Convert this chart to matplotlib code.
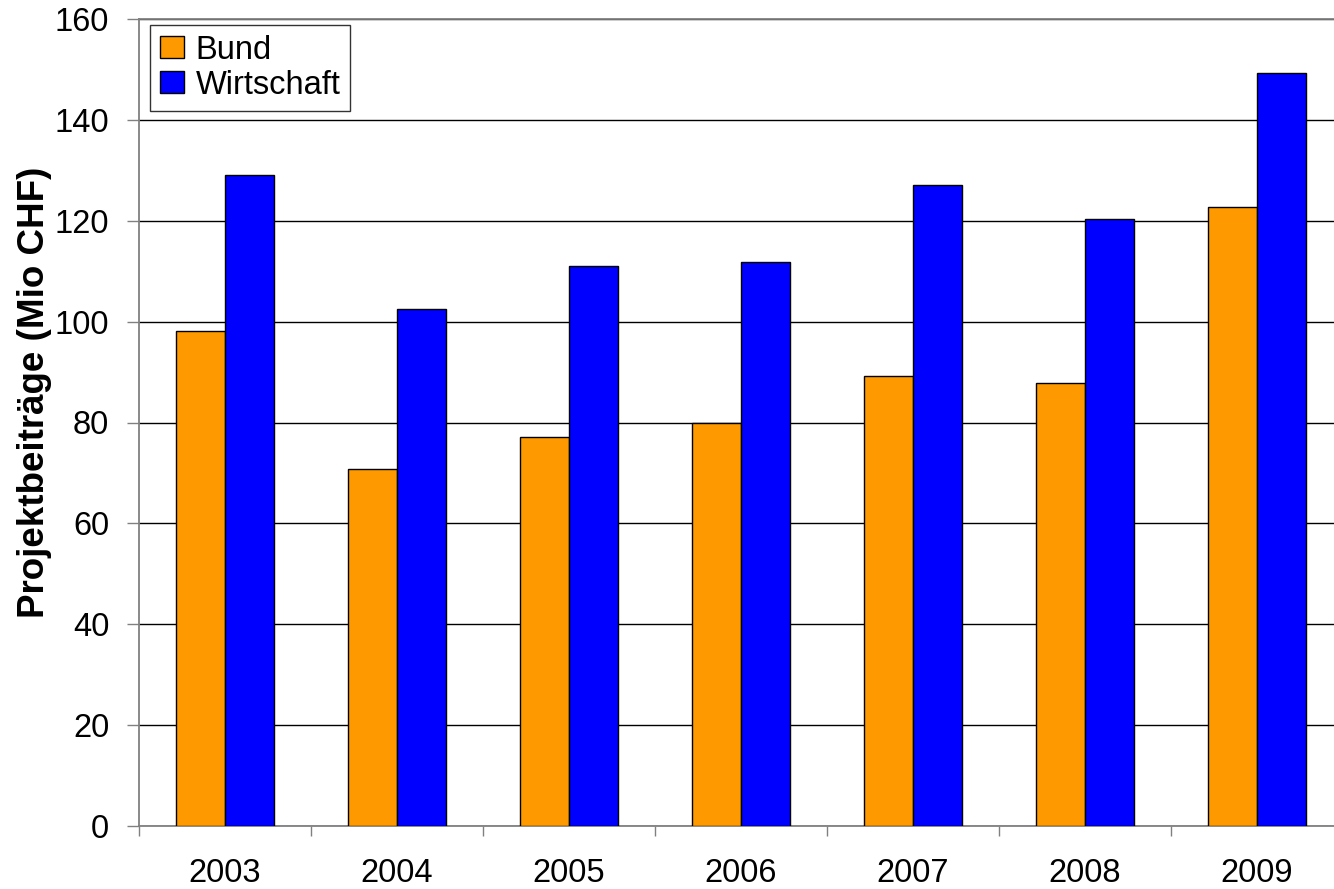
import matplotlib
matplotlib.use("Agg")
import matplotlib.pyplot as plt
import numpy as np

years = ["2003", "2004", "2005", "2006", "2007", "2008", "2009"]
bund = [98.1, 70.8, 77.1, 80.0, 89.3, 87.9, 122.7]
wirtschaft = [129.0, 102.6, 111.0, 111.8, 127.1, 120.3, 149.3]
series_names = ["Bund", "Wirtschaft"]
yticks = [0, 20, 40, 60, 80, 100, 120, 140, 160]

plt.rcParams['font.family'] = ['Liberation Sans', 'DejaVu Sans']

W, H = 1334, 889
fig = plt.figure(figsize=(W / 100, H / 100), dpi=100)
ax = fig.add_axes([139 / W, (H - 826) / H, 1204 / W, 807 / H])

x = np.arange(len(years))
bw = 0.285
ax.bar(x - bw / 2, bund, bw, color='#FF9900', edgecolor='black', linewidth=1.0,
       label=series_names[0], zorder=3)
ax.bar(x + bw / 2, wirtschaft, bw, color='#0000FF', edgecolor='black', linewidth=1.0,
       label=series_names[1], zorder=3)

FS = 23.5
ax.set_xlim(-0.5, len(years) - 0.5)
ax.set_ylim(0, 160)
ax.set_yticks(yticks)
ax.set_yticklabels([str(v) for v in yticks], fontsize=FS)

# category boundary ticks (major) and labels (minor)
ax.set_xticks(np.arange(len(years) + 1) - 0.5)
ax.set_xticklabels([])
ax.set_xticks(x, minor=True)
ax.set_xticklabels(years, minor=True, fontsize=FS)
ax.tick_params(axis='x', which='major', length=7.5, width=1, color='#808080', direction='out')
ax.tick_params(axis='x', which='minor', length=0, pad=23)
ax.tick_params(axis='y', length=8.5, width=1, color='#808080', direction='out', pad=13)

ax.set_axisbelow(True)
ax.yaxis.grid(True, color='black', linewidth=1.0)

for s in ['left', 'bottom', 'top']:
    ax.spines[s].set_color('#808080')
    ax.spines[s].set_linewidth(1.3)
ax.spines['right'].set_visible(False)

ax.set_ylabel("Projektbeiträge (Mio CHF)", fontsize=26.5, fontweight='bold')
ax.yaxis.set_label_coords(-0.0725, 0.538)

leg = ax.legend(loc='upper left', bbox_to_anchor=(11 / 1204, 1 - 6 / 807), fontsize=FS,
                frameon=True, fancybox=False, borderpad=0.3, handlelength=0.74,
                handleheight=0.65, handletextpad=0.36, labelspacing=0.12,
                borderaxespad=0)
leg.get_frame().set_edgecolor('black')
leg.get_frame().set_linewidth(1.0)

fig.savefig("out.png", dpi=100)
